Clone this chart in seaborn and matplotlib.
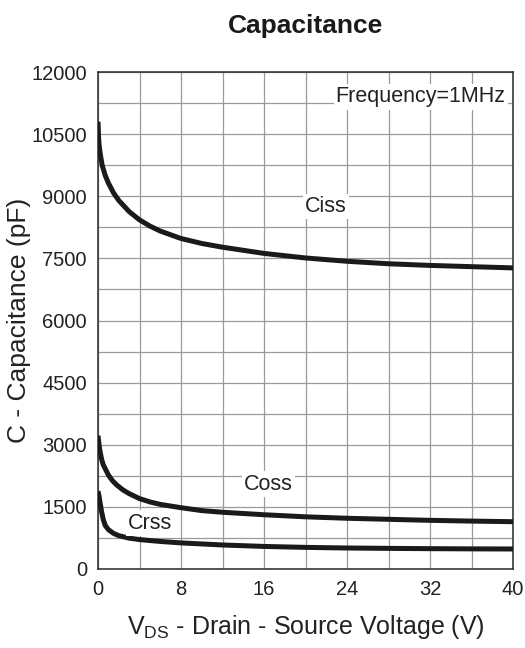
import numpy as np
import pandas as pd
import seaborn as sns
import matplotlib
matplotlib.use("Agg")
from matplotlib import pyplot as plt
from matplotlib.ticker import MultipleLocator

# values (VDS in V, C in pF)
ciss_v = [0, 0.05, 0.1, 0.2, 0.4, 0.7, 1, 1.5, 2, 3, 4, 5, 6, 8, 10, 12, 16, 20, 24, 28, 32, 36, 40]
ciss_c = [10800, 10450, 10250, 10050, 9750, 9500, 9320, 9080, 8900, 8630, 8430, 8280, 8160, 7980, 7860, 7770, 7620, 7510, 7430, 7370, 7330, 7300, 7270]

coss_v = [0, 0.1, 0.2, 0.35, 0.5, 0.7, 1, 1.4, 1.8, 2.4, 3, 4, 5, 6, 8, 10, 12, 16, 20, 24, 28, 32, 36, 40]
coss_c = [3220, 3000, 2830, 2650, 2520, 2420, 2270, 2130, 2030, 1910, 1820, 1700, 1620, 1560, 1480, 1410, 1370, 1310, 1260, 1225, 1200, 1175, 1157, 1142]

crss_v = [0, 0.1, 0.2, 0.35, 0.5, 0.7, 1, 1.5, 2, 3, 4, 6, 8, 12, 16, 20, 24, 28, 32, 36, 40]
crss_c = [1880, 1760, 1600, 1380, 1200, 1050, 950, 860, 805, 745, 710, 665, 630, 580, 545, 522, 507, 498, 491, 486, 483]

x_ticks = [0, 8, 16, 24, 32, 40]
y_ticks = [0, 1500, 3000, 4500, 6000, 7500, 9000, 10500, 12000]

sns.set_style("white")
plt.rcParams["font.family"] = ["Liberation Sans", "DejaVu Sans"]
plt.rcParams["mathtext.fontset"] = "custom"
plt.rcParams["mathtext.rm"] = "Liberation Sans"

fig = plt.figure(figsize=(5.25, 6.48), dpi=100)
ax = fig.add_axes([98 / 525, 1 - 569 / 648, 415 / 525, 497 / 648])

curves = [(ciss_v, ciss_c), (coss_v, coss_c), (crss_v, crss_c)]
for v, c in curves:
    sns.lineplot(x=v, y=c, ax=ax, color="#1a1a1a", linewidth=3.6,
                 solid_capstyle="butt", zorder=3)

ax.set_xlim(0, 40)
ax.set_ylim(0, 12000)
ax.set_xticks(x_ticks)
ax.set_yticks(y_ticks)
ax.xaxis.set_minor_locator(MultipleLocator(4))
ax.yaxis.set_minor_locator(MultipleLocator(750))
ax.grid(which="both", color="#9a9a9a", linewidth=0.9, zorder=0)
ax.set_axisbelow(True)
ax.tick_params(which="both", length=0)
ax.tick_params(axis="x", labelsize=14.5, pad=8, colors="#222222")
ax.tick_params(axis="y", labelsize=14.5, pad=8, colors="#222222")
for s in ax.spines.values():
    s.set_color("#2a2a2a")
    s.set_linewidth(1.1)

box = dict(facecolor="white", edgecolor="none", pad=1.5)
ax.text(39.3, 11400, "Frequency=1MHz", ha="right", va="center", fontsize=15.5,
        color="#222222", bbox=box, zorder=4)
ax.text(22.0, 8760, "Ciss", ha="center", va="center", fontsize=15.5,
        color="#222222", bbox=box, zorder=4)
ax.text(16.4, 2050, "Coss", ha="center", va="center", fontsize=15.5,
        color="#222222", bbox=box, zorder=4)
ax.text(5.0, 1110, "Crss", ha="center", va="center", fontsize=15.5,
        color="#222222", bbox=box, zorder=4)

ax.set_title("Capacitance", fontsize=19, fontweight="bold", color="#1a1a1a", pad=28)
ax.set_xlabel(r"$\mathrm{V_{DS}}$ - Drain - Source Voltage (V)", fontsize=18,
              color="#222222", labelpad=10)
ax.set_ylabel("C - Capacitance (pF)", fontsize=19, color="#222222", labelpad=0)

fig.savefig("out.png", dpi=100)
